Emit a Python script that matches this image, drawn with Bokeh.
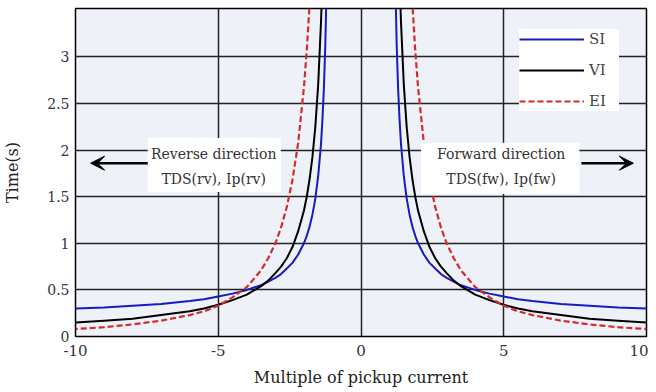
from bokeh.plotting import figure
from bokeh.models import (FixedTicker, Range1d, BoxAnnotation, Label, Arrow, VeeHead, Legend)
from bokeh.embed import file_html
from bokeh.resources import INLINE

# Multiple of pickup current (forward direction, mirrored for reverse)
multiple = [1.2, 1.25, 1.3, 1.35, 1.4, 1.5, 1.6, 1.7, 1.8, 1.9, 2.0, 2.2, 2.4, 2.6,
            2.8, 3.0, 3.25, 3.5, 4.0, 4.5, 5.0, 5.5, 6.0, 7.0, 8.0, 9.0, 10.0]
# Operating time (s)
t_si = [3.83, 3.13, 2.66, 2.33, 2.07, 1.72, 1.48, 1.31, 1.18, 1.08, 1.00, 0.88, 0.79, 0.73,
        0.67, 0.63, 0.59, 0.55, 0.50, 0.46, 0.43, 0.40, 0.38, 0.35, 0.33, 0.31, 0.30]
t_vi = [6.75, 5.40, 4.50, 3.86, 3.38, 2.70, 2.25, 1.93, 1.69, 1.50, 1.35, 1.13, 0.96, 0.84,
        0.75, 0.68, 0.60, 0.54, 0.45, 0.39, 0.34, 0.30, 0.27, 0.23, 0.19, 0.17, 0.15]
t_ei = [18.2, 14.2, 11.6, 9.73, 8.33, 6.40, 5.13, 4.23, 3.57, 3.07, 2.67, 2.08, 1.68, 1.39,
        1.17, 1.00, 0.84, 0.71, 0.53, 0.42, 0.33, 0.27, 0.23, 0.17, 0.13, 0.10, 0.08]

x_ticks = [-10, -5, 0, 5, 10]
x_tick_labels = ["-10", "-5", "0", "5", "10"]
y_ticks = [0, 0.5, 1, 1.5, 2, 2.5, 3]
y_tick_labels = ["0", "0.5", "1", "1.5", "2", "2.5", "3"]

FONT = "DejaVu Serif"

p = figure(width=648, height=390, output_backend="svg", toolbar_location=None,
           x_range=Range1d(-10, 10), y_range=Range1d(0, 3.52),
           min_border_left=70, min_border_right=2, min_border_top=8, min_border_bottom=54)
p.background_fill_color = "#eef2f8"
p.border_fill_color = "white"
p.outline_line_color = "black"
p.outline_line_width = 1.5

p.xaxis.ticker = FixedTicker(ticks=x_ticks)
p.yaxis.ticker = FixedTicker(ticks=y_ticks)
p.xaxis.major_label_overrides = {t: s for t, s in zip(x_ticks, x_tick_labels)}
p.yaxis.major_label_overrides = {t: s for t, s in zip(y_ticks, y_tick_labels)}

for ax in (p.xaxis[0], p.yaxis[0]):
    ax.axis_line_color = None
    ax.major_tick_line_color = None
    ax.minor_tick_line_color = None
    ax.major_tick_out = 0
    ax.major_tick_in = 0
    ax.minor_tick_out = 0
    ax.minor_tick_in = 0
    ax.major_label_text_font = FONT
    ax.major_label_text_font_size = "15px"
    ax.major_label_text_color = "#333333"
    ax.axis_label_text_font = FONT
    ax.axis_label_text_font_size = "16px"
    ax.axis_label_text_font_style = "normal"
    ax.axis_label_text_color = "#222222"

p.yaxis.major_label_text_font_size = "14px"
p.xaxis.axis_label = "Multiple of pickup current"
p.yaxis.axis_label = "Time(s)"
p.xaxis.major_label_standoff = 8
p.xaxis.axis_label_standoff = 9
p.yaxis.major_label_standoff = 6
p.yaxis.axis_label_standoff = 22

p.xgrid.grid_line_color = "#222222"
p.ygrid.grid_line_color = "#222222"
p.xgrid.grid_line_width = 1.5
p.ygrid.grid_line_width = 1.5

neg = [-m for m in multiple]
blue = "#1a1ac0"
red = "#d42a2a"

r_si = p.line(multiple, t_si, line_color=blue, line_width=2)
p.line(neg, t_si, line_color=blue, line_width=2)
r_vi = p.line(multiple, t_vi, line_color="black", line_width=2)
p.line(neg, t_vi, line_color="black", line_width=2)
r_ei = p.line(multiple, t_ei, line_color=red, line_width=2.2, line_dash="6 3")
p.line(neg, t_ei, line_color=red, line_width=2.2, line_dash="6 3")

legend = Legend(items=[("SI", [r_si]), ("VI", [r_vi]), ("EI", [r_ei])],
                location=(444, 225), glyph_width=65, glyph_height=20, spacing=11,
                padding=13, label_standoff=5, label_width=30, label_text_font=FONT,
                label_text_font_size="15px", background_fill_color="white",
                background_fill_alpha=1, border_line_color=None)
p.add_layout(legend)

# annotation boxes
p.add_layout(BoxAnnotation(left=-7.47, right=-2.81, bottom=1.55, top=2.13,
                           fill_color="white", fill_alpha=1, line_color=None))
p.add_layout(BoxAnnotation(left=2.1, right=7.65, bottom=1.53, top=2.08,
                           fill_color="white", fill_alpha=1, line_color=None))

for x, y, txt in [(-5.16, 1.96, "Reverse direction"), (-5.16, 1.69, "TDS(rv), Ip(rv)"),
                  (4.91, 1.96, "Forward direction"), (4.91, 1.69, "TDS(fw), Ip(fw)")]:
    p.add_layout(Label(x=x, y=y, text=txt, text_align="center", text_baseline="middle",
                       text_font=FONT, text_font_size="14px", text_color="#333333"))

p.add_layout(Arrow(x_start=-7.47, y_start=1.86, x_end=-9.47, y_end=1.86,
                   line_width=2.5, line_color="black",
                   end=VeeHead(size=14, fill_color="black", line_color="black")))
p.add_layout(Arrow(x_start=7.72, y_start=1.86, x_end=9.54, y_end=1.86,
                   line_width=2.5, line_color="black",
                   end=VeeHead(size=14, fill_color="black", line_color="black")))

open("out.html", "w").write(file_html(p, INLINE))
